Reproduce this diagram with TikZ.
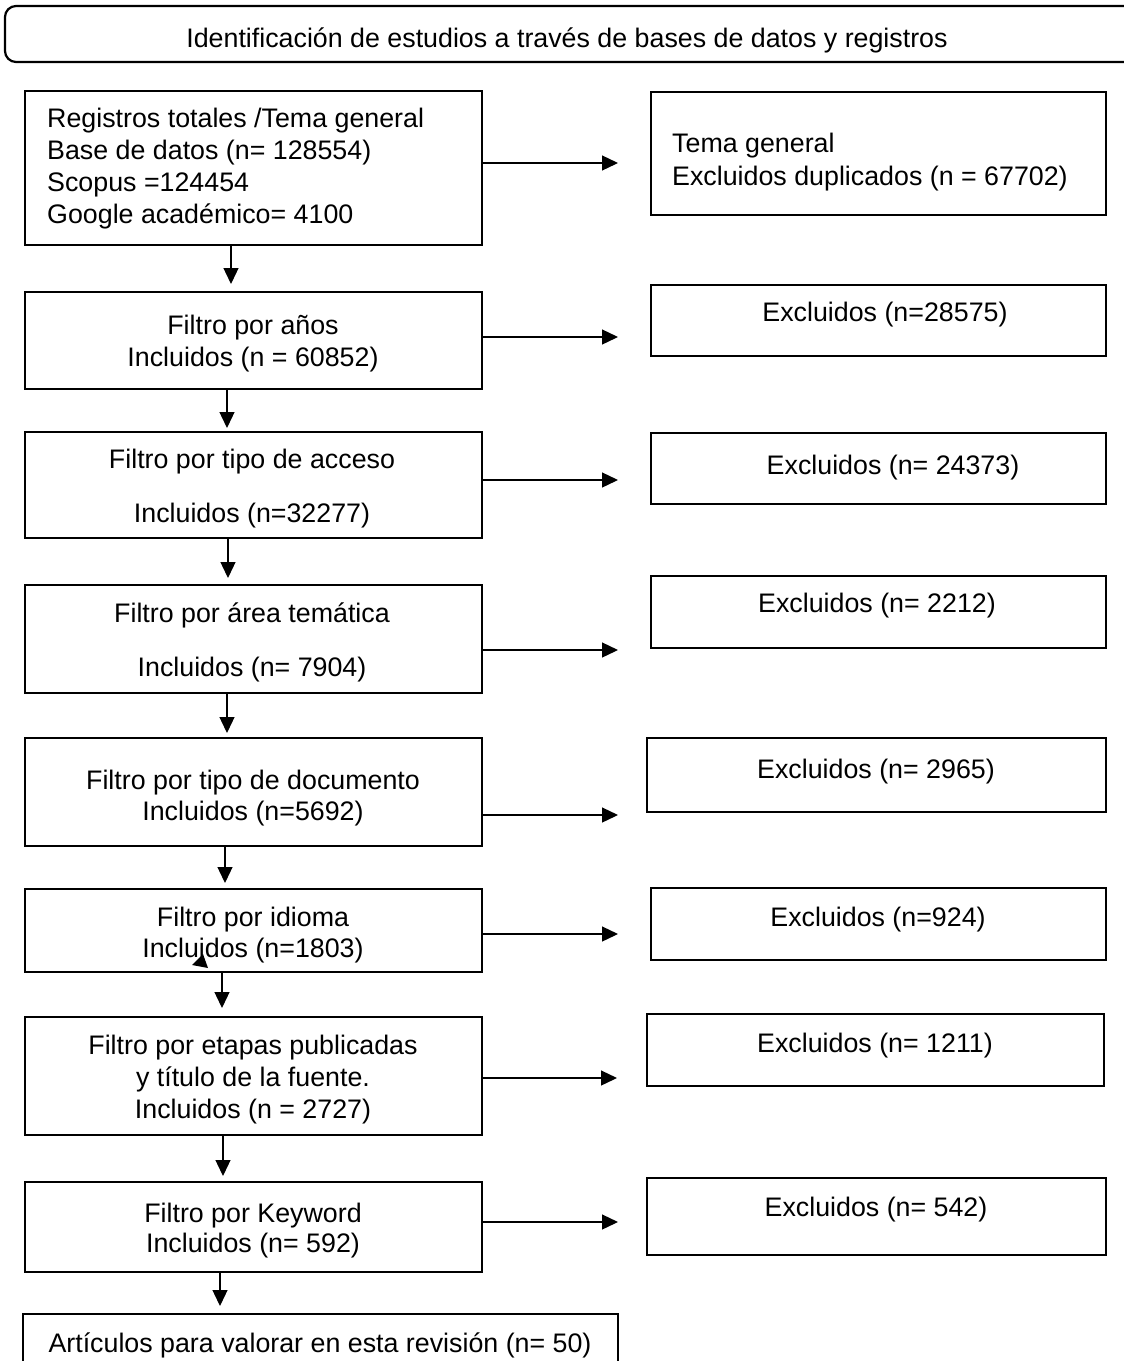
\documentclass[tikz,border=0pt]{standalone}
\usepackage{fontspec}
\setmainfont{Liberation Sans}
\usetikzlibrary{arrows.meta}
\begin{document}
\begin{tikzpicture}[x=1pt,y=-1pt,
  boxst/.style={draw=black,line width=2.5pt,inner sep=0pt,outer sep=0pt},
  txt/.style={inner sep=0pt,font=\fontsize{26.8}{32}\selectfont,align=center},
  txtl/.style={inner sep=0pt,font=\fontsize{26.8}{32}\selectfont,align=left,anchor=west},
  arr/.style={line width=1.3pt,-{Triangle[length=16pt,width=15pt]}}]
\useasboundingbox (0,0) rectangle (1124,1361);
\clip (0,0) rectangle (1124,1361);
\fill[white] (0,0) rectangle (1124,1361);

% banner
\node[boxst,rounded corners=11pt,line width=2.2pt,minimum width=1135pt,minimum height=56pt] (banner) at (572.5,34) {};
\node[txt] (bannertxt) at (567,40) {Identificación de estudios a través de bases de datos y registros};

% left boxes
\node[boxst,minimum width=457pt,minimum height=154pt] (B1) at (253.5,168) {};
\node[boxst,minimum width=457pt,minimum height=97pt] (B2) at (253.5,340.5) {};
\node[boxst,minimum width=457pt,minimum height=106pt] (B3) at (253.5,485) {};
\node[boxst,minimum width=457pt,minimum height=108pt] (B4) at (253.5,639) {};
\node[boxst,minimum width=457pt,minimum height=108pt] (B5) at (253.5,792) {};
\node[boxst,minimum width=457pt,minimum height=83pt] (B6) at (253.5,930.5) {};
\node[boxst,minimum width=457pt,minimum height=118pt] (B7) at (253.5,1076) {};
\node[boxst,minimum width=457pt,minimum height=90pt] (B8) at (253.5,1227) {};
\node[boxst,minimum width=595pt,minimum height=66pt] (B9) at (320.5,1347) {};

% right boxes
\node[boxst,minimum width=455pt,minimum height=123pt] (R1) at (878.5,153.5) {};
\node[boxst,minimum width=455pt,minimum height=71pt] (R2) at (878.5,320.5) {};
\node[boxst,minimum width=455pt,minimum height=71pt] (R3) at (878.5,468.5) {};
\node[boxst,minimum width=455pt,minimum height=72pt] (R4) at (878.5,612) {};
\node[boxst,minimum width=459pt,minimum height=74pt] (R5) at (876.5,775) {};
\node[boxst,minimum width=455pt,minimum height=72pt] (R6) at (878.5,924) {};
\node[boxst,minimum width=457pt,minimum height=72pt] (R7) at (875.5,1050) {};
\node[boxst,minimum width=459pt,minimum height=77pt] (R8) at (876.5,1216.5) {};

% texts left
\node[txtl] (T1) at (47,169) {Registros totales /Tema general\\Base de datos (n= 128554)\\Scopus =124454\\Google académico= 4100};
\node[txt] (T2) at (253,344) {Filtro por años\\Incluidos (n = 60852)};
\node[txt] (T3) at (252,489) {Filtro por tipo de acceso\\[22pt]Incluidos (n=32277)};
\node[txt] (T4) at (252,642) {Filtro por área temática\\[22pt]Incluidos (n= 7904)};
\node[txt] (T5) at (253,798.5) {Filtro por tipo de documento\\[-1pt]Incluidos (n=5692)};
\node[txt] (T6) at (253,935.5) {Filtro por idioma\\[-1pt]Incluidos (n=1803)};
\node[txt] (T7) at (253,1079.5) {Filtro por etapas publicadas\\y título de la fuente.\\Incluidos (n = 2727)};
\node[txt] (T8) at (253,1231) {Filtro por Keyword\\[-2pt]Incluidos (n= 592)};
\node[txt] (T9) at (320,1345) {Artículos para valorar en esta revisión (n= 50)};

% texts right
\node[txtl] (TR1) at (672,162) {Tema general\\[1pt]Excluidos duplicados (n = 67702)};
\node[txt] (TR2) at (885,315) {Excluidos (n=28575)};
\node[txt] (TR3) at (893,468) {Excluidos (n= 24373)};
\node[txt] (TR4) at (877,606) {Excluidos (n= 2212)};
\node[txt] (TR5) at (876,772) {Excluidos (n= 2965)};
\node[txt] (TR6) at (878,920) {Excluidos (n=924)};
\node[txt] (TR7) at (875,1046) {Excluidos (n= 1211)};
\node[txt] (TR8) at (876,1210) {Excluidos (n= 542)};

% horizontal arrow ends
\coordinate (h1) at (618,163);
\coordinate (h2) at (618,337);
\coordinate (h3) at (618,480);
\coordinate (h4) at (618,650);
\coordinate (h5) at (618,815);
\coordinate (h6) at (618,934);
\coordinate (h7) at (617,1078);
\coordinate (h8) at (618,1222);
\draw[arr] (B1.east |- h1) -- (h1);
\draw[arr] (B2.east |- h2) -- (h2);
\draw[arr] (B3.east |- h3) -- (h3);
\draw[arr] (B4.east |- h4) -- (h4);
\draw[arr] (B5.east |- h5) -- (h5);
\draw[arr] (B6.east |- h6) -- (h6);
\draw[arr] (B7.east |- h7) -- (h7);
\draw[arr] (B8.east |- h8) -- (h8);

% vertical arrow ends
\coordinate (v1) at (231,284);
\coordinate (v2) at (227,428);
\coordinate (v3) at (228,578);
\coordinate (v4) at (227,733);
\coordinate (v5) at (225,883);
\coordinate (v6) at (222,1008);
\coordinate (v7) at (223,1176);
\coordinate (v8) at (220,1306);
\draw[arr] (v1 |- B1.south) -- (v1);
\draw[arr] (v2 |- B2.south) -- (v2);
\draw[arr] (v3 |- B3.south) -- (v3);
\draw[arr] (v4 |- B4.south) -- (v4);
\draw[arr] (v5 |- B5.south) -- (v5);
\draw[arr] (v6 |- B6.south) -- (v6);
\draw[arr] (v7 |- B7.south) -- (v7);
\draw[arr] (v8 |- B8.south) -- (v8);

% stray arrowhead
\fill[black] (192,965) -- (203,954) -- (208,968) -- cycle;
\end{tikzpicture}
\end{document}
